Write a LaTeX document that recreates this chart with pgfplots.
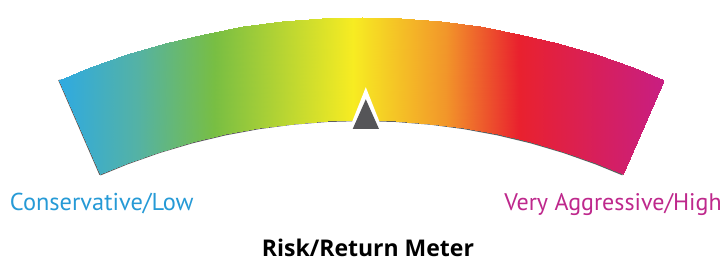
\documentclass[border=0pt]{standalone}
\usepackage{pgfplots}
\pgfplotsset{compat=1.18}
\usepackage{fontspec}
\setmainfont{PT Sans}
\newfontfamily\titlefont{Open Sans}
\definecolor{lowblue}{RGB}{38,154,214}
\definecolor{highmag}{RGB}{190,40,140}
\definecolor{ptr}{RGB}{85,85,88}
\definecolor{shadowgray}{RGB}{95,95,95}
\begin{document}
\begin{tikzpicture}
\begin{axis}[
  scale only axis, width=364pt, height=130.5pt,
  xmin=0, xmax=728, ymin=0, ymax=261,
  hide axis, clip=false,
  colormap={meter}{
    rgb255(0pt)=(47,170,225)
    rgb255(78pt)=(84,178,165)
    rgb255(155pt)=(120,190,67)
    rgb255(293pt)=(247,236,34)
    rgb255(386pt)=(242,150,42)
    rgb255(459pt)=(233,33,46)
    rgb255(604pt)=(200,30,130)},
  point meta min=59.25, point meta max=663.75,
]
\path (axis cs:0,0) rectangle (axis cs:728,261);
% shadow along left edge and inner arc
\addplot[draw=shadowgray, line width=1.1pt, line join=round] table {
x y
59.25 181.13
100.32 86.67
126.77 97.50
159.09 108.94
191.97 118.68
225.32 126.69
259.04 132.94
293.03 137.41
327.22 140.10
361.5 141
395.78 140.10
429.97 137.41
463.96 132.94
497.68 126.69
531.03 118.68
563.91 108.94
596.23 97.50
622.68 86.67
};
% gradient band
\addplot[surf, shader=interp, mesh/cols=17, point meta=x] table {
x y
59.25 181.13
89.86 193.65
127.27 206.90
165.32 218.17
203.90 227.44
242.92 234.67
282.27 239.85
321.83 242.96
361.5 244
401.17 242.96
440.73 239.85
480.08 234.67
519.10 227.44
557.68 218.17
595.73 206.90
633.14 193.65
663.75 181.13

100.32 86.67
126.77 97.50
159.09 108.94
191.97 118.68
225.32 126.69
259.04 132.94
293.03 137.41
327.22 140.10
361.5 141
395.78 140.10
429.97 137.41
463.96 132.94
497.68 126.69
531.03 118.68
563.91 108.94
596.23 97.50
622.68 86.67
};
% pointer
\addplot[fill=white, draw=none] table {
x y
349.3 132.0
382.3 132.0
365.8 173.8
349.3 132.0
};
\addplot[fill=ptr, draw=none] table {
x y
352.7 132.0
379.0 132.0
365.8 161.7
352.7 132.0
};
\node[anchor=base west, text=lowblue, inner sep=0pt, font=\fontsize{12.2pt}{14pt}\selectfont] at (axis cs:9.5,50.5) {Conservative/Low};
\node[anchor=base east, text=highmag, inner sep=0pt, font=\fontsize{12pt}{14pt}\selectfont] at (axis cs:722,50.5) {Very Aggressive/High};
\node[anchor=base, text=black, inner sep=0pt, font=\titlefont\bfseries\fontsize{11.5pt}{13pt}\selectfont] at (axis cs:368,4.5) {Risk/Return Meter};
\end{axis}
\end{tikzpicture}
\end{document}
